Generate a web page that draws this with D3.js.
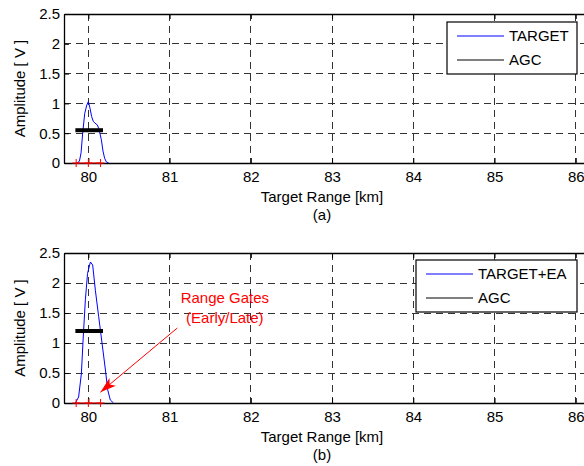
<!DOCTYPE html>
<html><head><meta charset="utf-8">
<script src="https://cdn.jsdelivr.net/npm/d3@7"></script>
<style>body{margin:0;background:#fff}svg{display:block;font-family:"Liberation Sans",Arial,sans-serif}</style>
</head><body><svg id="c" width="584" height="466"></svg>
<script>
// ---- data ----
const xTicks = [80, 81, 82, 83, 84, 85, 86];
const yTicks = [0, 0.5, 1, 1.5, 2, 2.5];
const targetXA = [79.86, 79.89, 79.91, 79.93, 79.955, 79.98, 80.00, 80.02, 80.04, 80.06, 80.08, 80.11, 80.13, 80.16, 80.18, 80.20, 80.22, 80.25];
const targetYA = [0, 0.03, 0.17, 0.5, 0.83, 0.97, 1.03, 0.92, 0.78, 0.70, 0.67, 0.64, 0.57, 0.39, 0.2, 0.08, 0.02, 0];
const targetXB = [79.84, 79.88, 79.914, 79.935, 79.963, 79.99, 80.025, 80.053, 80.086, 80.127, 80.168, 80.21, 80.238, 80.27, 80.31];
const targetYB = [0, 0.1, 0.49, 1.05, 1.72, 2.16, 2.35, 2.3, 1.88, 1.44, 1.0, 0.55, 0.22, 0.05, 0];
const agcX = [79.84, 80.18];
const agcYA = [0.55, 0.55];
const agcYB = [1.2, 1.2];
const gateX = [79.85, 80.0, 80.15];
const gateY = [0, 0, 0];
const legendA = ["TARGET", "AGC"];
const legendB = ["TARGET+EA", "AGC"];
const xLabel = "Target Range [km]";
const yLabel = "Amplitude [ V ]";
const annText = ["Range Gates", "(Early/Late)"];

const svg = d3.select("#c");
svg.append("rect").attr("width", 584).attr("height", 466).attr("fill", "#fff");
const defs = svg.append("defs");
defs.append("marker").attr("id", "ah").attr("viewBox", "0 0 16 10").attr("refX", 16).attr("refY", 5)
  .attr("markerWidth", 16).attr("markerHeight", 10).attr("markerUnits", "userSpaceOnUse").attr("orient", "auto")
  .append("path").attr("d", "M0,0 L16,5 L0,10 L4,5 Z").attr("fill", "#ff0000");

const left = 64, right = 592;
const x = d3.scaleLinear().domain([79.7, 86.2]).range([left, right]);

function panel(cfg) {
  const y = d3.scaleLinear().domain([0, 2.5]).range([cfg.bottom, cfg.top]);
  const g = svg.append("g");
  const cid = "clip" + cfg.id;
  defs.append("clipPath").attr("id", cid).append("rect")
    .attr("x", left).attr("y", cfg.top).attr("width", right - left).attr("height", cfg.bottom - cfg.top);
  // grid
  g.append("g").selectAll("line").data(xTicks).join("line")
    .attr("x1", d => x(d)).attr("x2", d => x(d)).attr("y1", cfg.top).attr("y2", cfg.bottom)
    .attr("stroke", "#333").attr("stroke-dasharray", "7,5").attr("shape-rendering", "crispEdges");
  g.append("g").selectAll("line").data(yTicks).join("line")
    .attr("x1", left).attr("x2", right).attr("y1", d => y(d)).attr("y2", d => y(d))
    .attr("stroke", "#333").attr("stroke-dasharray", "7,5").attr("shape-rendering", "crispEdges");
  // axes (inward ticks)
  const ax = g.append("g").attr("transform", `translate(0,${cfg.bottom})`)
    .call(d3.axisBottom(x).tickValues(xTicks).tickFormat(d3.format("d")).tickSizeInner(-5).tickSizeOuter(0).tickPadding(8));
  const axT = g.append("g").attr("transform", `translate(0,${cfg.top})`)
    .call(d3.axisTop(x).tickValues(xTicks).tickFormat("").tickSizeInner(-5).tickSizeOuter(0));
  const ay = g.append("g").attr("transform", `translate(${left},0)`)
    .call(d3.axisLeft(y).tickValues(yTicks).tickFormat(d => d).tickSizeInner(-5).tickSizeOuter(0).tickPadding(4));
  [ax, axT, ay].forEach(a => {
    a.select(".domain").attr("stroke", "#000").attr("stroke-width", 1.3);
    a.selectAll(".tick line").attr("stroke", "#000");
    a.selectAll("text").attr("font-size", 15).attr("fill", "#000").attr("font-family", "Liberation Sans, Arial, sans-serif");
  });
  // data
  const cg = g.append("g").attr("clip-path", `url(#${cid})`);
  const line = d3.line().x(d => x(d[0])).y(d => y(d[1]));
  cg.append("path").datum(d3.zip(cfg.tx, cfg.ty)).attr("d", line)
    .attr("fill", "none").attr("stroke", "#0000ff").attr("stroke-width", 1);
  cg.append("path").datum(d3.zip(agcX, cfg.agcY)).attr("d", line)
    .attr("fill", "none").attr("stroke", "#000").attr("stroke-width", 4);
  // range gates
  g.append("path").datum(d3.zip(gateX, gateY)).attr("d", line)
    .attr("fill", "none").attr("stroke", "#ff0000").attr("stroke-width", 1);
  g.append("g").selectAll("path").data(d3.zip(gateX, gateY)).join("path")
    .attr("d", d => `M${x(d[0]) - 4},${y(d[1])}H${x(d[0]) + 4}M${x(d[0])},${y(d[1]) - 4}V${y(d[1]) + 4}`)
    .attr("stroke", "#ff0000").attr("stroke-width", 1).attr("fill", "none");
  // labels
  g.append("text").attr("x", 322).attr("y", cfg.bottom + 39).attr("text-anchor", "middle")
    .attr("font-size", 15).text(xLabel);
  g.append("text").attr("x", 322).attr("y", cfg.bottom + 57).attr("text-anchor", "middle")
    .attr("font-size", 15).text(cfg.letter);
  g.append("text").attr("transform", `translate(25,${(cfg.top + cfg.bottom) / 2}) rotate(-90)`)
    .attr("text-anchor", "middle").attr("font-size", 15).text(yLabel);
  // legend
  const L = cfg.legend;
  const lg = g.append("g");
  lg.append("rect").attr("x", L.x).attr("y", L.y).attr("width", L.w).attr("height", 52)
    .attr("fill", "#fff").attr("stroke", "#000").attr("stroke-width", 1.2);
  const cols = ["#0000ff", "#000"];
  cfg.labels.forEach((t, i) => {
    const yy = L.y + 14 + i * 24;
    lg.append("line").attr("x1", L.x + 10).attr("x2", L.x + 57).attr("y1", yy).attr("y2", yy)
      .attr("stroke", cols[i]).attr("stroke-width", 1);
    lg.append("text").attr("x", L.x + 62).attr("y", yy).attr("dy", "0.36em").attr("font-size", 15).text(t);
  });
  return y;
}

panel({id: "a", top: 14, bottom: 163, tx: targetXA, ty: targetYA, agcY: agcYA, letter: "(a)",
  labels: legendA, legend: {x: 447, y: 22, w: 130}});
const yb = panel({id: "b", top: 253, bottom: 403, tx: targetXB, ty: targetYB, agcY: agcYB, letter: "(b)",
  labels: legendB, legend: {x: 416, y: 260, w: 161}});

// annotation
svg.append("line").attr("x1", x(81.095)).attr("y1", yb(1.25)).attr("x2", x(80.148)).attr("y2", yb(0.18))
  .attr("stroke", "#ff0000").attr("stroke-width", 1).attr("marker-end", "url(#ah)");
annText.forEach((t, i) => {
  svg.append("text").attr("x", x(81.68)).attr("y", yb(1.75 - i * 0.33)).attr("dy", "0.36em")
    .attr("text-anchor", "middle").attr("font-size", 15).attr("fill", "#ff0000").text(t);
});
</script></body></html>
